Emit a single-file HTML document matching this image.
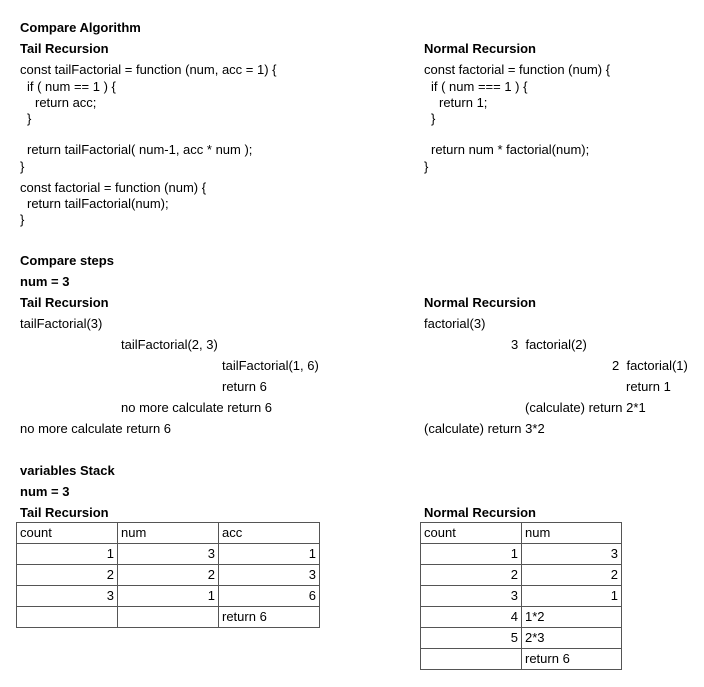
<!DOCTYPE html>
<html><head><style>
body{margin:0;width:704px;height:687px;background:#fff;position:relative;font-family:"Liberation Sans",sans-serif;font-size:13px;color:#000}
.w{position:absolute;left:0;top:1px;width:704px;height:686px}
.t{position:absolute;line-height:16px;white-space:pre}
.b{font-weight:bold}
table{position:absolute;border-collapse:collapse;font-size:13px}
td{border:1px solid #555;height:20px;padding:0 3px;line-height:20px;box-sizing:border-box}
td.r{text-align:right}
</style></head><body>
<div class="w">
<div class="t b" style="left:20px;top:19px">Compare Algorithm</div>
<div class="t b" style="left:20px;top:40px">Tail Recursion</div>
<div class="t b" style="left:424px;top:40px">Normal Recursion</div>
<div class="t" style="left:20px;top:61px">const tailFactorial = function (num, acc = 1) {</div>
<div class="t" style="left:27px;top:78px">if ( num == 1 ) {</div>
<div class="t" style="left:35px;top:94px">return acc;</div>
<div class="t" style="left:27px;top:110px">}</div>
<div class="t" style="left:27px;top:141px">return tailFactorial( num-1, acc * num );</div>
<div class="t" style="left:20px;top:158px">}</div>
<div class="t" style="left:20px;top:179px">const factorial = function (num) {</div>
<div class="t" style="left:27px;top:195px">return tailFactorial(num);</div>
<div class="t" style="left:20px;top:211px">}</div>
<div class="t" style="left:424px;top:61px">const factorial = function (num) {</div>
<div class="t" style="left:431px;top:78px">if ( num === 1 ) {</div>
<div class="t" style="left:439px;top:94px">return 1;</div>
<div class="t" style="left:431px;top:110px">}</div>
<div class="t" style="left:431px;top:141px">return num * factorial(num);</div>
<div class="t" style="left:424px;top:158px">}</div>

<div class="t b" style="left:20px;top:252px">Compare steps</div>
<div class="t b" style="left:20px;top:273px">num = 3</div>
<div class="t b" style="left:20px;top:294px">Tail Recursion</div>
<div class="t b" style="left:424px;top:294px">Normal Recursion</div>
<div class="t" style="left:20px;top:315px">tailFactorial(3)</div>
<div class="t" style="left:121px;top:336px">tailFactorial(2, 3)</div>
<div class="t" style="left:222px;top:357px">tailFactorial(1, 6)</div>
<div class="t" style="left:222px;top:378px">return 6</div>
<div class="t" style="left:121px;top:399px">no more calculate return 6</div>
<div class="t" style="left:20px;top:420px">no more calculate return 6</div>
<div class="t" style="left:424px;top:315px">factorial(3)</div>
<div class="t" style="left:511px;top:336px">3  factorial(2)</div>
<div class="t" style="left:612px;top:357px">2  factorial(1)</div>
<div class="t" style="left:626px;top:378px">return 1</div>
<div class="t" style="left:525px;top:399px">(calculate) return 2*1</div>
<div class="t" style="left:424px;top:420px">(calculate) return 3*2</div>

<div class="t b" style="left:20px;top:462px">variables Stack</div>
<div class="t b" style="left:20px;top:483px">num = 3</div>
<div class="t b" style="left:20px;top:504px">Tail Recursion</div>
<div class="t b" style="left:424px;top:504px">Normal Recursion</div>
</div>

<table style="left:16px;top:522px;width:304px">
<tr><td style="width:101px">count</td><td style="width:101px">num</td><td>acc</td></tr>
<tr><td class="r">1</td><td class="r">3</td><td class="r">1</td></tr>
<tr><td class="r">2</td><td class="r">2</td><td class="r">3</td></tr>
<tr><td class="r">3</td><td class="r">1</td><td class="r">6</td></tr>
<tr><td></td><td></td><td>return 6</td></tr>
</table>
<table style="left:420px;top:522px;width:202px">
<tr><td style="width:101px">count</td><td>num</td></tr>
<tr><td class="r">1</td><td class="r">3</td></tr>
<tr><td class="r">2</td><td class="r">2</td></tr>
<tr><td class="r">3</td><td class="r">1</td></tr>
<tr><td class="r">4</td><td>1*2</td></tr>
<tr><td class="r">5</td><td>2*3</td></tr>
<tr><td></td><td>return 6</td></tr>
</table>
</body></html>
